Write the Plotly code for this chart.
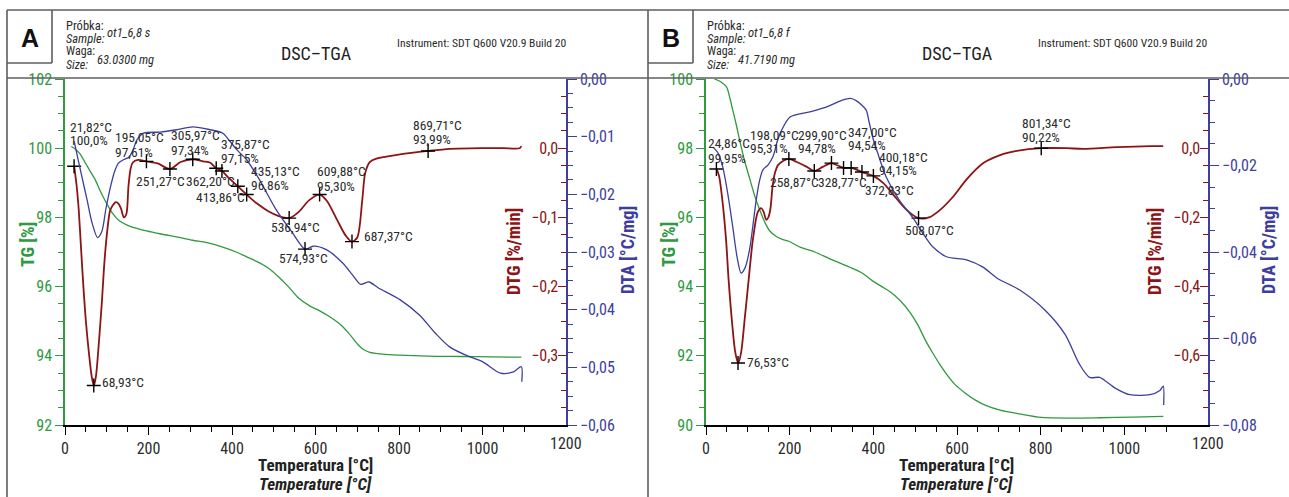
import plotly.graph_objects as go

W, H = 1289, 497
NARROW = "Liberation Sans Narrow, Arial Narrow, Roboto Condensed, DejaVu Sans Condensed, Liberation Sans, sans-serif"
GREEN = "#2f9a3f"
RED = "#8c1414"
BLUE = "#3e3e9e"
INK = "#2b2b2b"
FRAME = "#5e5e5e"

# ---------------- Sample A: ot1_6,8 s ----------------
tg_a_t = [15, 22, 35, 50, 62, 72, 85, 100, 115, 130, 150, 170, 195, 230, 270, 306, 340, 376,
          410, 435, 460, 485, 510, 535, 560, 585, 610, 635, 660, 680, 700, 715, 730, 760, 800,
          870, 950, 1020, 1093]
tg_a = [100.05, 100.0, 99.85, 99.55, 99.3, 99.1, 98.75, 98.4, 98.1, 97.9, 97.77, 97.69, 97.61,
        97.52, 97.43, 97.34, 97.27, 97.15, 97.0, 96.86, 96.72, 96.55, 96.3, 96.0, 95.66, 95.45,
        95.3, 95.12, 94.9, 94.65, 94.35, 94.18, 94.1, 94.05, 94.02, 93.99, 93.98, 93.97, 93.96]

dtg_a_t = [22, 25, 28, 33, 38, 43, 50, 58, 64, 69, 74, 80, 88, 95, 102, 108, 115, 122, 128, 134,
           141, 147, 152, 157, 162, 175, 195, 222, 251, 277, 306, 331, 348, 362, 376, 392, 414,
           435, 460, 487, 512, 537, 560, 585, 610, 627, 652, 672, 687, 700, 712, 719, 730, 746,
           802, 870, 922, 1000, 1050, 1089, 1093]
dtg_a = [-0.026, -0.040, -0.055, -0.090, -0.140, -0.190, -0.250, -0.300, -0.330, -0.343, -0.330,
         -0.290, -0.225, -0.160, -0.115, -0.090, -0.082, -0.078, -0.080, -0.087, -0.100, -0.095,
         -0.055, -0.030, -0.021, -0.017, -0.019, -0.022, -0.030, -0.020, -0.016, -0.019, -0.021,
         -0.029, -0.033, -0.043, -0.055, -0.067, -0.080, -0.091, -0.098, -0.101, -0.092, -0.075,
         -0.067, -0.076, -0.104, -0.126, -0.135, -0.129, -0.075, -0.036, -0.020, -0.015, -0.009,
         -0.004, -0.001, 0.000, 0.000, 0.000, 0.003]

dta_a_t = [22, 30, 40, 53, 65, 78, 88, 98, 108, 118, 128, 140, 152, 162, 172, 188, 227, 267, 307,
           348, 378, 395, 412, 435, 466, 506, 545, 575, 594, 626, 665, 689, 708, 728, 750, 803,
           850, 886, 922, 970, 1000, 1043, 1074, 1093, 1094]
dta_a = [-0.0108, -0.0135, -0.0168, -0.0210, -0.0250, -0.0275, -0.0265, -0.0225, -0.0190,
         -0.0162, -0.0146, -0.0140, -0.0136, -0.0125, -0.0106, -0.0094, -0.0092, -0.0088,
         -0.0083, -0.0088, -0.0094, -0.0108, -0.0123, -0.0140, -0.0175, -0.0227, -0.0267,
         -0.0295, -0.0290, -0.0296, -0.0319, -0.0340, -0.0356, -0.0352, -0.0362, -0.0383,
         -0.0410, -0.0440, -0.0465, -0.0482, -0.0490, -0.0510, -0.0508, -0.0499, -0.0525]

# characteristic points on the DTG curve: temperature, DTG, label lines (text, dx, dy)
pk_a_t = [21.82, 68.93, 195.05, 251.27, 305.97, 362.20, 375.87, 413.86, 435.13, 536.94,
          609.88, 687.37, 869.71]
pk_a_v = [-0.026, -0.343, -0.019, -0.030, -0.016, -0.029, -0.033, -0.055, -0.067, -0.101,
          -0.067, -0.135, -0.004]
pk_a_lbl = [
    [("21,82°C", -6, 39), ("100,0%", -6, 26)],
    [("68,93°C", 6, 4)],
    [("195,05°C", -33, 24), ("97,61%", -33, 9)],
    [("251,27°C", -36, -12)],
    [("305,97°C", -24, 24), ("97,34%", -24, 9)],
    [("362,20°C", -32, -13)],
    [("375,87°C", -3, 27), ("97,15%", -3, 13)],
    [("413,86°C", -44, -11)],
    [("435,13°C", 2, 24), ("96,86%", 2, 10)],
    [("536,94°C", -20, -9)],
    [("609,88°C", -5, 24), ("95,30%", -5, 9)],
    [("687,37°C", 10, 6)],
    [("869,71°C", -17, 26), ("93,99%", -17, 12)],
]
# characteristic point on the DTA curve
pk_a_dta_t = [574.93]
pk_a_dta_v = [-0.0295]
pk_a_dta_lbl = [[("574,93°C", -28, -9)]]

# ---------------- Sample B: ot1_6,8 f ----------------
tg_b_t = [20, 35, 49, 57, 64, 72, 81, 93, 105, 117, 129, 141, 153, 168, 184, 198, 225, 260, 300,
          344, 375, 400, 420, 440, 464, 488, 506, 524, 542, 560, 578, 596, 620, 644, 670, 703,
          750, 801, 870, 942, 1020, 1093]
tg_b = [100.0, 99.92, 99.77, 99.45, 99.1, 98.7, 98.2, 97.6, 97.1, 96.6, 96.2, 95.85, 95.6, 95.45,
        95.36, 95.31, 95.14, 95.0, 94.78, 94.56, 94.38, 94.15, 94.0, 93.85, 93.6, 93.25, 92.9,
        92.46, 92.08, 91.73, 91.42, 91.16, 90.92, 90.72, 90.56, 90.43, 90.32, 90.22, 90.20,
        90.21, 90.23, 90.25]

dtg_b_t = [25, 28, 32, 40, 48, 54, 62, 70, 77, 84, 92, 102, 112, 124, 132, 138, 144, 149, 154,
           159, 165, 172, 184, 198, 217, 241, 259, 279, 300, 315, 329, 347, 360, 373, 386, 400,
           424, 448, 480, 508, 535, 559, 590, 623, 663, 703, 743, 801, 862, 902, 982, 1061, 1093]
dtg_b = [-0.060, -0.068, -0.085, -0.16, -0.265, -0.38, -0.50, -0.59, -0.621, -0.59, -0.50,
         -0.38, -0.265, -0.184, -0.173, -0.185, -0.207, -0.200, -0.175, -0.112, -0.070, -0.049,
         -0.037, -0.031, -0.040, -0.054, -0.066, -0.054, -0.043, -0.050, -0.057, -0.057, -0.062,
         -0.069, -0.074, -0.080, -0.101, -0.135, -0.179, -0.202, -0.199, -0.179, -0.141, -0.090,
         -0.043, -0.020, -0.008, 0.000, 0.000, -0.002, 0.003, 0.006, 0.006]

dta_b_t = [16, 28, 40, 52, 64, 74, 84, 94, 104, 112, 120, 128, 136, 148, 160, 170, 180, 201, 248,
           287, 326, 345, 359, 372, 383, 390, 400, 410, 431, 462, 494, 518, 542, 575, 623, 662,
           695, 750, 810, 858, 893, 917, 941, 977, 1013, 1061, 1085, 1093, 1094]
dta_b = [-0.0157, -0.0170, -0.0203, -0.0265, -0.0342, -0.0410, -0.0449, -0.0435, -0.0395,
         -0.0340, -0.0280, -0.0235, -0.0210, -0.0199, -0.0180, -0.0145, -0.0120, -0.0088,
         -0.0076, -0.0065, -0.0049, -0.0045, -0.0050, -0.0060, -0.0072, -0.0100, -0.0140,
         -0.0170, -0.0227, -0.0280, -0.0320, -0.0356, -0.0388, -0.0411, -0.0418, -0.0435,
         -0.0460, -0.0488, -0.0534, -0.0590, -0.0660, -0.0690, -0.0690, -0.0714, -0.0730,
         -0.0730, -0.0720, -0.0710, -0.0754]

pk_b_t = [24.86, 76.53, 198.09, 258.87, 299.90, 328.77, 347.00, 372.83, 400.18, 508.07, 801.34]
pk_b_v = [-0.060, -0.621, -0.031, -0.066, -0.043, -0.057, -0.057, -0.069, -0.080, -0.202, 0.000]
pk_b_lbl = [
    [("24,86°C", -10, 26), ("99,95%", -10, 11)],
    [("76,53°C", 7, 1)],
    [("198,09°C", -41, 24), ("95,31%", -41, 11)],
    [("258,87°C", -46, -11)],
    [("299,90°C", -35, 28), ("94,78%", -35, 15)],
    [("328,77°C", -28, -14)],
    [("347,00°C", -5, 36), ("94,54%", -5, 23)],
    [("372,83°C", 1, -18)],
    [("400,18°C", 4, 19), ("94,15%", 4, 6)],
    [("508,07°C", -16, -12)],
    [("801,34°C", -21, 25), ("90,22%", -21, 11)],
]

temp_ticks = [0, 200, 400, 600, 800, 1000, 1200]

# ---------------- figure ----------------
def px(x):
    return x / W


def py(y):
    return 1 - y / H


YDOM = [py(425), py(79)]
fig = go.Figure()


def curve(t, v, color, width, xa, ya):
    fig.add_trace(go.Scatter(x=t, y=v, mode="lines", xaxis=xa, yaxis=ya, hoverinfo="skip",
                             line=dict(color=color, width=width, shape="spline", smoothing=0.8)))


def crosses(t, v, xa, ya):
    fig.add_trace(go.Scatter(x=t, y=v, mode="markers", xaxis=xa, yaxis=ya, hoverinfo="skip",
                             marker=dict(symbol="cross-thin", size=10, color="black",
                                         line=dict(color="black", width=1.4))))


annotations = []


def point_labels(t, v, lbls, xa, ya):
    for ti, vi, lines in zip(t, v, lbls):
        for text, dx, dy in lines:
            annotations.append(dict(x=ti, y=vi, xref=xa, yref=ya, text=text, showarrow=False,
                                    xanchor="left", yanchor="middle", xshift=dx, yshift=dy,
                                    font=dict(family=NARROW, size=13.5, color=INK)))


# panel A: x / y (TG), y2 (DTG), y3 (DTA)
curve(tg_a_t, tg_a, GREEN, 1.3, "x", "y")
curve(dtg_a_t, dtg_a, RED, 1.8, "x", "y2")
curve(dta_a_t, dta_a, BLUE, 1.3, "x", "y3")
crosses(pk_a_t, pk_a_v, "x", "y2")
crosses(pk_a_dta_t, pk_a_dta_v, "x", "y3")
point_labels(pk_a_t, pk_a_v, pk_a_lbl, "x", "y2")
point_labels(pk_a_dta_t, pk_a_dta_v, pk_a_dta_lbl, "x", "y3")

# panel B: x2 / y4 (TG), y5 (DTG), y6 (DTA)
curve(tg_b_t, tg_b, GREEN, 1.3, "x2", "y4")
curve(dtg_b_t, dtg_b, RED, 1.8, "x2", "y5")
curve(dta_b_t, dta_b, BLUE, 1.3, "x2", "y6")
crosses(pk_b_t, pk_b_v, "x2", "y5")
point_labels(pk_b_t, pk_b_v, pk_b_lbl, "x2", "y5")


def steps(lo, hi, step):
    n = int(round((hi - lo) / step))
    return [round(lo + i * step, 5) for i in range(n + 1)]


def temp_axis(x0, x1, anchor):
    # the last label sits under the right-hand axes and is written separately below
    return dict(domain=[px(x0), px(x1)], anchor=anchor, range=[0, 1200], tickmode="array",
                tickvals=temp_ticks, ticktext=[str(t) for t in temp_ticks[:-1]] + [""],
                ticks="outside", ticklen=8, tickwidth=1.2, tickcolor="black",
                showline=True, linecolor="black", linewidth=1.5, showgrid=False, zeroline=False,
                tickfont=dict(family=NARROW, size=16, color=INK), fixedrange=True,
                automargin=False,
                minor=dict(ticks="outside", ticklen=5, tickwidth=1.2, tickcolor="black",
                           tickmode="array", tickvals=steps(0, 1200, 50), showgrid=False))


def tg_axis(anchor, lo, hi):
    return dict(domain=YDOM, anchor=anchor, range=[lo, hi], tickmode="linear", tick0=lo, dtick=2,
                ticks="outside", ticklen=8, tickwidth=1.2, tickcolor=GREEN, showline=True,
                linecolor=GREEN, linewidth=1.5, showgrid=False, zeroline=False, fixedrange=True,
                automargin=False,
                tickfont=dict(family=NARROW, size=16, color=GREEN),
                minor=dict(ticks="outside", ticklen=5, tickwidth=1.2, tickcolor=GREEN,
                           tickmode="array", tickvals=steps(lo, hi, 0.5), showgrid=False))


def dtg_axis(over, anchor, lo, hi, labels, minor_step):
    return dict(overlaying=over, anchor=anchor, side="right", range=[lo, hi], tickmode="array",
                tickvals=labels, tickformat=".1f", ticks="inside", ticklabelposition="inside",
                ticklen=8, tickwidth=1.2, tickcolor=RED, showline=False, showgrid=False,
                zeroline=False, fixedrange=True, automargin=False,
                tickfont=dict(family=NARROW, size=16, color=RED),
                minor=dict(ticks="inside", ticklen=5, tickwidth=1.2, tickcolor=RED,
                           tickmode="array", tickvals=steps(lo, hi, minor_step), showgrid=False))


def dta_axis(over, anchor, lo, major, minor_step):
    return dict(overlaying=over, anchor=anchor, side="right", range=[lo, 0], tickmode="linear",
                tick0=0, dtick=major, tickformat=".2f", ticks="outside", ticklen=9, tickwidth=1.2,
                tickcolor=BLUE, showline=True, linecolor=BLUE, linewidth=1.5, showgrid=False,
                zeroline=False, fixedrange=True, automargin=False,
                tickfont=dict(family=NARROW, size=16, color=BLUE),
                minor=dict(ticks="outside", ticklen=5, tickwidth=1.2, tickcolor=BLUE,
                           tickmode="array", tickvals=steps(lo, 0, minor_step), showgrid=False))


# frame of both panels and their header boxes
shapes = []


def seg(x0, y0, x1, y1):
    shapes.append(dict(type="line", xref="paper", yref="paper", x0=px(x0), y0=py(y0),
                       x1=px(x1), y1=py(y1), line=dict(color=FRAME, width=1.6)))


seg(7, 10, W, 10)
seg(7, 10, 7, H)
seg(648, 10, 648, H)
seg(7, 78, W, 78)
for left in (7, 648):
    seg(left + 45, 10, left + 45, 63)
    seg(left, 63, left + 45, 63)


def text(x, y, s, size, color=INK, xanchor="left", angle=0, family=NARROW):
    annotations.append(dict(x=px(x), y=py(y), xref="paper", yref="paper", text=s,
                            showarrow=False, xanchor=xanchor, yanchor="middle", textangle=angle,
                            borderpad=0, font=dict(family=family, size=size, color=color)))


# last temperature label of each axis
for xa in ("x", "x2"):
    annotations.append(dict(x=temp_ticks[-1], y=py(443), xref=xa, yref="paper",
                            text=str(temp_ticks[-1]), showarrow=False, xanchor="center",
                            yanchor="middle", font=dict(family=NARROW, size=16, color=INK)))

panels = [
    # offset, letter, sample, mass
    (0, "A", "ot1_6,8 s", "63.0300 mg"),
    (641, "B", "ot1_6,8 f", "41.7190 mg"),
]
for off, letter, sample, mass in panels:
    text(30 + off, 38, "<b>" + letter + "</b>", 25, "#111111", "center",
         family="Liberation Sans, Arial, sans-serif")
    text(65 + off, 25, "Próbka:", 12.5)
    text(65 + off, 39, "<i>Sample:</i>", 12.5)
    text(106 + off, 33, "<i>" + sample + "</i>", 12.5)
    text(65 + off, 51, "Waga:", 12)
    text(65 + off, 65, "<i>Size:</i>", 12)
    text(96 + off, 59, "<i>" + mass + "</i>", 12.5)
    text(316 + off, 53, "DSC–TGA", 18, "#222222", "center")
    text(396 + off, 43, "Instrument: SDT Q600 V20.9 Build 20", 11.6)
    text(315 + off, 465, "<b>Temperatura [°C]</b>", 17, "#222222", "center")
    text(315 + off, 484, "<b><i>Temperature [°C]</i></b>", 17, "#222222", "center")
    text(27 + off, 245, "<b>TG [%]</b>", 18, GREEN, "center", -90)
    text(513 + off, 252, "<b>DTG [%/min]</b>", 18, RED, "center", -90)
    text(628 + off, 250, "<b>DTA [°C/mg]</b>", 18, BLUE, "center", -90)

fig.update_layout(
    width=W, height=H, margin=dict(l=0, r=0, t=0, b=0, pad=0, autoexpand=False),
    paper_bgcolor="white", plot_bgcolor="white", showlegend=False, separators=",.",
    xaxis=temp_axis(65, 566, "y"),
    yaxis=tg_axis("x", 92, 102),
    yaxis2=dtg_axis("y", "x", -0.4, 0.1, [-0.3, -0.2, -0.1, 0.0], 0.025),
    yaxis3=dta_axis("y", "x", -0.06, 0.01, 0.0025),
    xaxis2=temp_axis(706, 1208, "y4"),
    yaxis4=tg_axis("x2", 90, 100),
    yaxis5=dtg_axis("y4", "x2", -0.8, 0.2, [-0.6, -0.4, -0.2, 0.0], 0.05),
    yaxis6=dta_axis("y4", "x2", -0.08, 0.02, 0.005),
    shapes=shapes, annotations=annotations,
)

fig.write_html("out.html")
